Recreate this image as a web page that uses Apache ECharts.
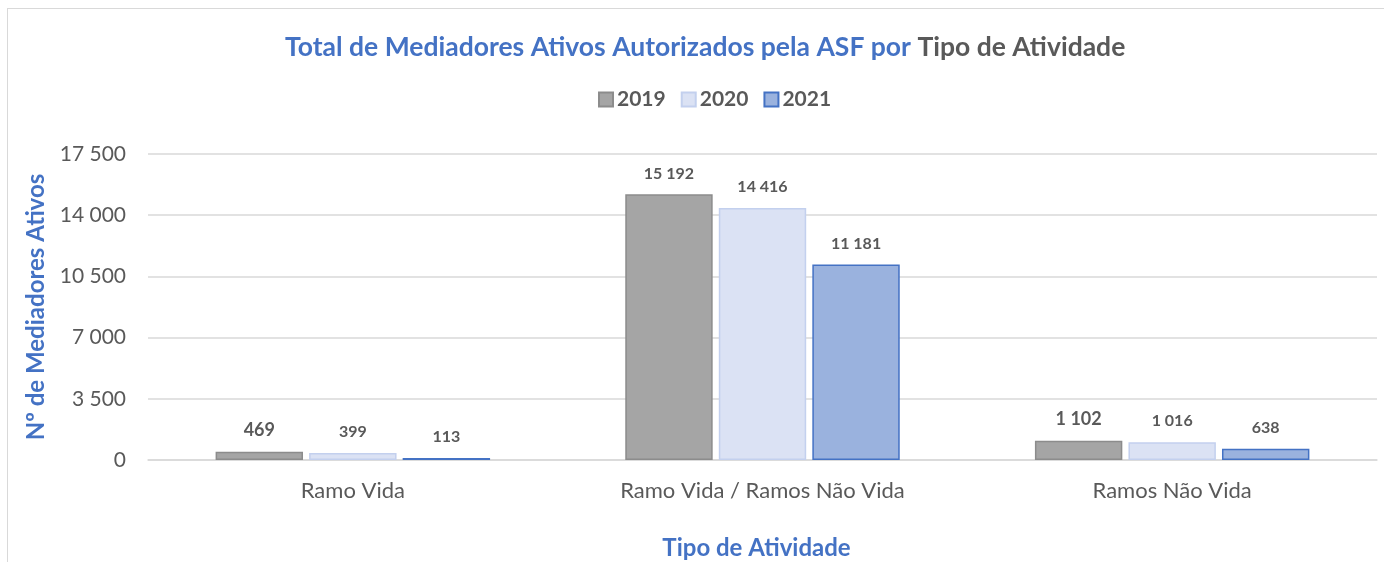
<!DOCTYPE html>
<html>
<head>
<meta charset="utf-8">
<script src="https://cdn.jsdelivr.net/npm/echarts@6/dist/echarts.min.js"></script>
<style>
html, body { margin: 0; padding: 0; background: #fff; overflow: hidden; }
.frame {
  position: absolute;
  left: 7px;
  top: 8px;
  width: 1400px;
  height: 560px;
  border-top: 1px solid #d9d9d9;
  border-left: 1px solid #d9d9d9;
}
#chart { position: absolute; left: 0; top: 0; width: 1384px; height: 562px; }
</style>
</head>
<body>
<div class="frame"></div>
<div id="chart"></div>
<script>
const categories = ['Ramo Vida', 'Ramo Vida / Ramos Não Vida', 'Ramos Não Vida']
const years = ['2019', '2020', '2021']
const values2019 = [469, 15192, 1102]
const values2020 = [399, 14416, 1016]
const values2021 = [113, 11181, 638]
const yTicks = [0, 3500, 7000, 10500, 14000, 17500]

const font = 'Lato, "Open Sans", sans-serif'
const fmt = v => String(v).replace(/\B(?=(\d{3})+(?!\d))/g, ' ')

const fills = ['#a5a5a5', '#dbe2f4', '#9ab2de']
const borders = ['#8c8c8c', '#c3d0ee', '#4472c4']

function makeSeries (name, values, i) {
  return {
    name: name,
    type: 'bar',
    barGap: '7%',
    barCategoryGap: '33%',
    itemStyle: { color: fills[i], borderColor: borders[i], borderWidth: 1.5 },
    label: {
      show: true,
      position: 'top',
      distance: 13,
      fontFamily: font,
      fontWeight: 'bold',
      fontSize: 16,
      color: '#595959',
      formatter: p => fmt(p.value)
    },
    data: values.map((v, j) => {
      // the 2019 labels on the small groups are drawn bigger in the source
      if (i === 0 && j !== 1) return { value: v, label: { fontSize: 18 } }
      return v
    })
  }
}

const chart = echarts.init(document.getElementById('chart'))
chart.setOption({
  animation: false,
  title: {
    left: 280,
    top: 29,
    padding: 5,
    text: '{a|Total de Mediadores Ativos Autorizados pela ASF por }{b|Tipo de Atividade}',
    textStyle: {
      rich: {
        a: { fontFamily: font, fontWeight: 'bold', fontSize: 26.5, color: '#4472c4' },
        b: { fontFamily: font, fontWeight: 'bold', fontSize: 26.5, color: '#595959' }
      }
    }
  },
  legend: {
    top: 84,
    left: 593,
    padding: 5,
    itemWidth: 14,
    itemHeight: 14,
    itemGap: 15,
    icon: 'rect',
    textStyle: { fontFamily: font, fontWeight: 'bold', fontSize: 21, color: '#595959', padding: [0, 0, 0, -1] },
    data: years
  },
  grid: { left: 148, right: 7, top: 154, bottom: 102, outerBoundsMode: 'none', containLabel: false },
  xAxis: {
    type: 'category',
    data: categories,
    name: 'Tipo de Atividade',
    nameLocation: 'middle',
    nameGap: 76,
    nameTextStyle: { fontFamily: font, fontWeight: 'bold', fontSize: 24, color: '#4472c4', padding: [0, 12, 0, 0] },
    axisLine: { lineStyle: { color: '#d9d9d9', width: 1.5 } },
    axisTick: { show: false },
    axisLabel: { fontFamily: font, fontSize: 22, color: '#595959', margin: 20 }
  },
  yAxis: {
    type: 'value',
    min: yTicks[0],
    max: yTicks[yTicks.length - 1],
    interval: yTicks[1] - yTicks[0],
    name: 'Nº de Mediadores Ativos',
    nameLocation: 'middle',
    nameGap: 100,
    nameTextStyle: { fontFamily: font, fontWeight: 'bold', fontSize: 24, color: '#4472c4' },
    axisLine: { show: false },
    axisTick: { show: false },
    splitLine: { lineStyle: { color: '#d9d9d9', width: 1.5 } },
    axisLabel: { fontFamily: font, fontSize: 21, color: '#595959', margin: 22, formatter: v => fmt(v) }
  },
  series: [
    makeSeries(years[0], values2019, 0),
    makeSeries(years[1], values2020, 1),
    makeSeries(years[2], values2021, 2)
  ]
})
</script>
</body>
</html>
